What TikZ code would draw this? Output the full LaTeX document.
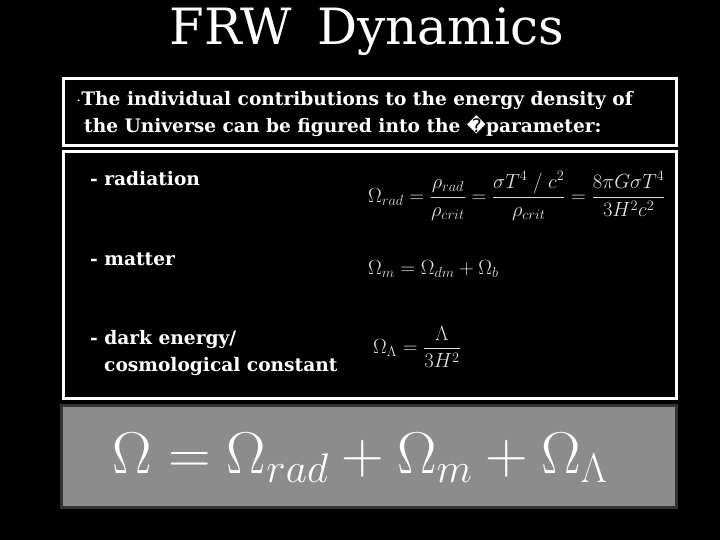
\documentclass[tikz,border=0pt]{standalone}
\usepackage{fix-cm}
\usepackage{amsmath}
\usepackage{fontspec}
\setmainfont{DejaVu Serif}
\newfontfamily\djv{DejaVu Sans}
\begin{document}
\begin{tikzpicture}[x=1pt,y=-1pt,
  wbox/.style={draw=white,line width=3pt},
  txt/.style={text=white,anchor=base west,inner sep=0pt,font=\fontsize{18.6}{22}\selectfont\bfseries},
  eq/.style={text=white!88!black,anchor=west,inner sep=0pt,font=\fontsize{20.5}{24}\selectfont}]
\useasboundingbox[fill=black] (0,0) rectangle (720,540);
\node[text=white,font=\fontsize{50}{54}\selectfont,inner sep=0pt] (title) at (367,32) {FRW\hspace{0.5em}Dynamics};
\draw[wbox] (63,79) rectangle (676,146);
\draw[wbox] (63,152) rectangle (676,398);
\node[txt] (b1) at (76,106) {$\cdot$The individual contributions to the energy density of};
\node[txt] (b2) at (84,133) {the Universe can be figured into the {\djv\mdseries\char"FFFD}parameter:};
\node[txt] (r) at (90,186) {- radiation};
\node[txt] (m) at (90,265) {- matter};
\node[txt] (d1) at (90,344) {- dark energy/};
\node[txt] (d2) at (104,371) {cosmological constant};
\node[eq] (e1) at (368,196) {$\Omega_{rad}=\dfrac{\rho_{rad}}{\rho_{crit}}=\dfrac{\sigma T^4\;/\;c^2}{\rho_{crit}}=\dfrac{8\pi G\sigma T^4}{3H^2c^2}$};
\node[eq] (e2) at (368,269) {$\Omega_m=\Omega_{dm}+\Omega_b$};
\node[eq] (e3) at (373,347) {$\Omega_\Lambda=\dfrac{\Lambda}{3H^2}$};
\draw[fill=black!45,draw=black!80,line width=3pt] (61,405) rectangle (676,507);
\node[text=white,inner sep=0pt,font=\fontsize{59}{64}\selectfont] (big) at (360,458) {$\Omega=\Omega_{rad}+\Omega_m+\Omega_\Lambda$};
\end{tikzpicture}
\end{document}
